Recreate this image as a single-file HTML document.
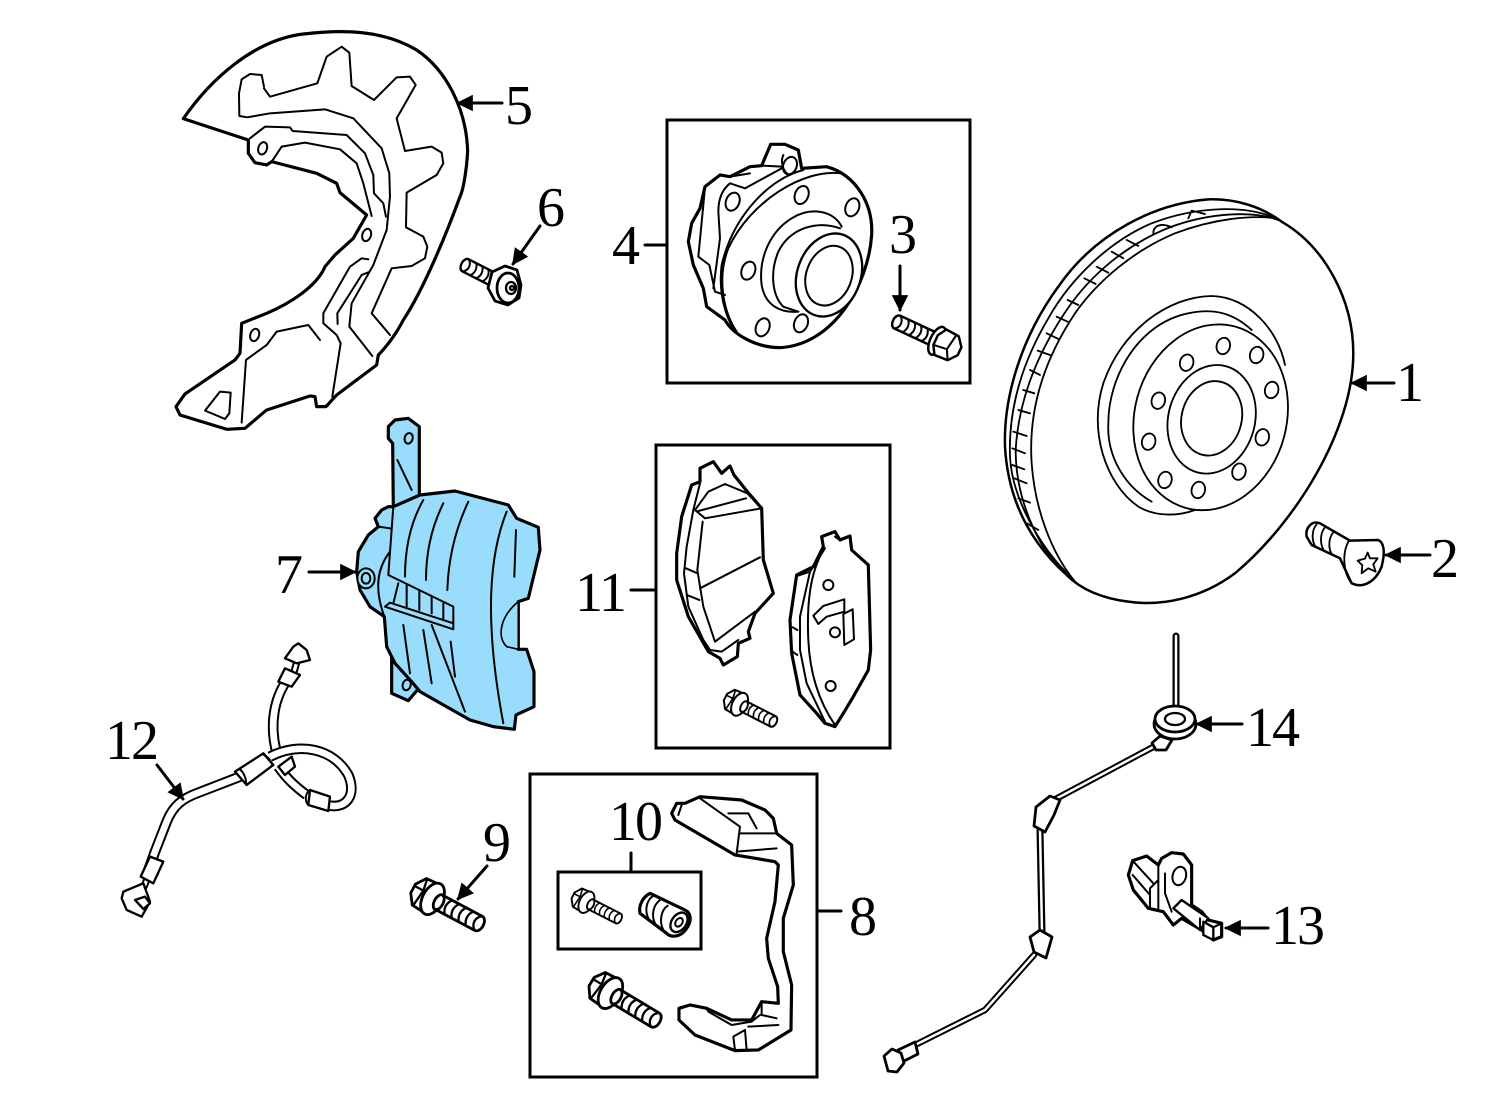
<!DOCTYPE html>
<html><head><meta charset="utf-8"><style>
html,body{margin:0;padding:0;background:#fff}
svg{display:block}
text{font-family:"Liberation Serif",serif;font-size:56px;letter-spacing:-2px;fill:#000}
path,ellipse,circle{stroke-linejoin:round;stroke-linecap:round}
.l{fill:none;stroke:#000;stroke-width:2.3}
.w{fill:#fff;stroke:#000;stroke-width:2.8}
.zo{fill:#fff;stroke:#000;stroke-width:9.5}
.zl{fill:none;stroke:#000;stroke-width:6}
.zw{fill:#fff;stroke:#000;stroke-width:7}
.bo{fill:#99dcfb;stroke:#000;stroke-width:9.5}
.rl{fill:none;stroke:#000;stroke-width:5.5}
.ro{fill:#fff;stroke:#000;stroke-width:7.5}
.rw{fill:#fff;stroke:#000;stroke-width:5.5}
.box{fill:none;stroke:#000;stroke-width:3}
.a{stroke:#000;stroke-width:3;fill:none}
.hk{fill:none;stroke:#000;stroke-width:32;stroke-linecap:butt}
.hw{fill:none;stroke:#fff;stroke-width:20;stroke-linecap:butt}
</style></head><body>
<svg width="1500" height="1103" viewBox="0 0 1500 1103" xmlns="http://www.w3.org/2000/svg">
<defs>
<marker id="m" viewBox="0 0 10 10" refX="9" refY="5" markerWidth="5.5" markerHeight="5.5" orient="auto"><path d="M0 0L10 5L0 10z" fill="#000"/></marker>
<g id="sh"><path class="w" d="M10 -8L56 -8C63 -8 63 8 56 8L10 8z"/><path class="l" d="M22 -8C18 -3 18 3 22 8M30 -8C26 -3 26 3 30 8M38 -8C34 -3 34 3 38 8M46 -8C42 -3 42 3 46 8M56 -8C50 -4 50 4 56 8"/></g>
<g id="b1"><path class="w" d="M-18 -5L-11 -15L3 -16L8 -8L8 8L3 16L-11 15L-18 5z"/><path class="l" d="M-10 -15L-8 -3L3 -3M-18 -3L-8 -3M-8 -3L-10 15"/><ellipse class="w" cx="4" cy="0" rx="10" ry="17"/><use href="#sh"/><ellipse class="w" cx="11" cy="0" rx="4.5" ry="8"/></g>
<g id="b2"><use href="#sh"/><ellipse class="w" cx="6" cy="0" rx="8" ry="17"/><path class="w" d="M-22 -5L-14 -15L2 -16L8 -6L8 6L2 16L-14 15L-22 5z"/><path class="l" d="M-14 -15L-8 -4L8 -6M-8 -4L-11 15"/></g>
</defs>

<!-- boxes -->
<rect class="box" x="667" y="120" width="303" height="263"/>
<rect class="box" x="656" y="445" width="234" height="303"/>
<rect class="box" x="530" y="774" width="287" height="303"/>
<rect class="box" x="558" y="872" width="143" height="77"/>

<!-- 5 shield -->
<g transform="translate(170,20) scale(.3333)">
<path class="zo" d="M40 296C120 180 250 60 400 42C520 28 640 30 740 90C830 150 890 270 893 395C890 450 880 510 870 530C830 640 760 810 700 900C680 940 650 980 625 1005L620 1035L500 1125L468 1160L440 1160L435 1130L420 1128L290 1170L225 1225L170 1228L30 1185L18 1160L45 1122L195 1020L210 1000L215 910L290 880C360 850 440 800 465 740L495 705L550 655L590 585L510 518L500 490L440 460L305 425L290 435L255 428L235 400L235 360z"/>
<path class="zl" d="M282 200L275 165L240 162L215 178L207 220L208 288L232 292L300 280L465 268L550 295L635 385L658 460L660 530L650 630L610 735L545 850L538 920L607 1008"/>
<path class="zl" d="M282 205L300 230L442 190L470 110L515 80L538 98L545 198L612 240L680 172L720 170L737 195L680 295L705 393L785 380L815 398L820 430L800 465L710 518L708 622L760 650L772 680L765 715L725 738L665 745L605 880L660 945"/>
<path class="zl" d="M240 355L285 320L360 322L368 333L530 345L585 400L610 465L612 520L640 550L648 590"/>
<path class="zl" d="M305 425L335 380L405 368L510 388L560 430L580 490L605 588"/>
<path class="zl" d="M595 718L575 715L540 740L460 880L460 910L500 945L512 970L487 1130"/>
<path class="zl" d="M595 757L575 765L502 880L503 912"/>
<path class="zl" d="M450 960L415 915L320 935L290 975L228 1020L215 1208"/>
<path class="zl" d="M105 1172L150 1115L182 1118L178 1180L165 1197z"/>
<ellipse class="zl" cx="278" cy="385" rx="13" ry="19" transform="rotate(18 278 385)"/>
<ellipse class="zl" cx="590" cy="645" rx="13" ry="19" transform="rotate(18 590 645)"/>
<ellipse class="zl" cx="254" cy="945" rx="13" ry="19" transform="rotate(18 254 945)"/>
</g>

<!-- 6 bolt -->
<g transform="translate(508,287) rotate(207) scale(.85)">
<path class="w" d="M10 -8L56 -8C63 -8 63 8 56 8L10 8z"/><path class="l" d="M30 -8C26 -3 26 3 30 8M38 -8C34 -3 34 3 38 8M46 -8C42 -3 42 3 46 8M56 -8C50 -4 50 4 56 8"/>
</g>
<path class="w" d="M492 272L505 266L517 270L521 285L519 298L508 305L495 301L488 288z"/>
<ellipse class="w" cx="508" cy="288" rx="11" ry="15"/>
<ellipse class="l" cx="511" cy="288" rx="5" ry="6"/>
<circle class="l" cx="512" cy="288" r="2"/>

<!-- 4 hub -->
<g transform="translate(670,125) scale(.3333)">
<path class="zo" d="M302 58L345 58L385 75L395 130L470 125C560 150 610 240 605 330C595 480 490 660 330 668C260 668 190 630 165 585L110 545L100 490L70 420L55 350L65 295L90 250L105 185L150 150L180 155L240 125L275 122z"/>
<path class="zl" d="M400 135C300 160 190 270 155 420C145 500 165 570 190 610"/>
<path class="zl" d="M515 145C400 130 240 230 175 370C140 460 160 560 200 620"/>
<path class="zl" d="M302 58L275 122L335 125M335 130L225 190L180 175C155 195 145 225 145 260L150 340L130 490M105 185L100 240L85 395L118 420L135 500L165 510M180 155L240 145M340 90C330 110 340 145 360 150"/>
<ellipse class="zl" cx="360" cy="122" rx="20" ry="27" transform="rotate(22 360 122)"/>
<ellipse class="zl" cx="188" cy="230" rx="20" ry="28" transform="rotate(22 188 230)"/>
<ellipse class="zl" cx="395" cy="210" rx="20" ry="28" transform="rotate(22 395 210)"/>
<ellipse class="zl" cx="547" cy="247" rx="20" ry="28" transform="rotate(22 547 247)"/>
<ellipse class="zl" cx="235" cy="437" rx="20" ry="28" transform="rotate(22 235 437)"/>
<ellipse class="zl" cx="278" cy="607" rx="20" ry="28" transform="rotate(22 278 607)"/>
<ellipse class="zl" cx="393" cy="595" rx="20" ry="28" transform="rotate(22 393 595)"/>
<path class="zl" d="M515 305C490 255 420 245 365 280C300 320 265 400 275 480C285 540 330 565 385 560"/>
<path class="zl" d="M510 310C440 285 360 310 325 380C300 440 305 510 340 545L385 560"/>
<ellipse class="zw" cx="477" cy="450" rx="95" ry="128" transform="rotate(20 477 450)"/>
<ellipse class="zl" cx="477" cy="452" rx="68" ry="92" transform="rotate(20 477 452)"/>
</g>

<!-- 3 bolt -->
<use href="#b2" transform="translate(942,343) rotate(205) scale(.88)"/>

<!-- 1 rotor -->
<g transform="translate(995,190) scale(.3333)">
<path class="ro" d="M640 28C720 25 800 50 860 95C990 170 1075 330 1075 490C1075 720 900 1000 720 1150C620 1225 500 1250 400 1235C320 1225 260 1200 215 1155C120 1070 40 950 30 770C25 620 80 440 190 290C300 130 480 40 640 28z"/>
<path class="rl" d="M855 92C760 40 600 50 470 100C350 150 230 260 160 385C80 520 40 660 45 800C50 910 120 1060 240 1175"/>
<path class="rl" d="M850 90C770 60 640 70 530 110C400 160 290 250 215 360C120 500 70 640 62 780C62 880 90 980 150 1080L235 1170"/>
<path class="rl" d="M845 85C770 75 660 85 540 130C420 180 310 270 240 370C140 520 100 670 110 820C120 960 170 1090 240 1175"/>
<path class="rl" d="M475 130C475 105 500 98 530 112M580 85L590 62L630 72M395 150L430 168M350 185L385 205M305 230L340 248M268 265L302 282M218 330L250 345M185 380L218 395M155 430L190 447M128 482L165 495M105 540L135 555M85 600L118 610M70 660L105 670M55 725L95 738M52 775L90 790M52 825L88 838M58 865L95 880M70 925L105 938M95 1000L130 1020"/>
<path class="rl" d="M870 525C850 420 760 320 650 318C520 320 380 420 325 580C280 720 330 880 430 950C490 985 560 975 600 960"/>
<path class="rl" d="M770 420C710 365 650 355 580 370C430 400 340 560 340 700C335 800 390 890 470 935"/>
<ellipse class="rw" cx="647" cy="682" rx="228" ry="282" transform="rotate(15 647 682)"/>
<ellipse class="rl" cx="650" cy="688" rx="130" ry="165" transform="rotate(15 650 688)"/>
<ellipse class="rl" cx="650" cy="685" rx="90" ry="113" transform="rotate(15 650 685)"/>
<g class="rl"><ellipse cx="685" cy="468" rx="20" ry="25" transform="rotate(15 685 468)"/><ellipse cx="785" cy="495" rx="20" ry="25" transform="rotate(15 785 495)"/><ellipse cx="830" cy="600" rx="20" ry="25" transform="rotate(15 830 600)"/><ellipse cx="802" cy="742" rx="20" ry="25" transform="rotate(15 802 742)"/><ellipse cx="732" cy="845" rx="20" ry="25" transform="rotate(15 732 845)"/><ellipse cx="610" cy="900" rx="20" ry="25" transform="rotate(15 610 900)"/><ellipse cx="510" cy="870" rx="20" ry="25" transform="rotate(15 510 870)"/><ellipse cx="461" cy="755" rx="20" ry="25" transform="rotate(15 461 755)"/><ellipse cx="490" cy="632" rx="20" ry="25" transform="rotate(15 490 632)"/><ellipse cx="575" cy="518" rx="20" ry="25" transform="rotate(15 575 518)"/></g>
<!-- 2 screw -->
<path class="ro" d="M935 1040C930 1015 950 990 975 1000L1065 1052L1150 1050C1170 1060 1170 1090 1160 1130C1140 1180 1100 1195 1070 1180L1035 1105L950 1065z"/>
<path class="rl" d="M965 1003C950 1020 950 1050 960 1068M990 1012C975 1030 975 1060 985 1078M1015 1027C1000 1045 1000 1075 1010 1092M1062 1052C1040 1090 1045 1150 1070 1180"/>
<path class="rl" d="M1118 1088L1125 1105L1148 1105L1135 1123L1142 1145L1120 1135L1100 1150L1102 1126L1088 1112L1110 1106z"/>
</g>

<!-- 7 caliper -->
<g transform="translate(340,410) scale(.3333)">
<path class="bo" d="M145 50L165 30L205 25L238 50L238 260L160 295L158 100L145 85z"/>
<path class="bo" d="M155 740L155 850L205 872L232 840L240 780z"/>
<path class="bo" d="M160 290L240 255L345 243L505 285L530 325L595 352L600 420L565 565L535 575L535 718L560 718L582 785L582 890L528 915L523 958L460 950L390 930L240 845L215 815L165 760L140 710L133 620L90 590L60 540L50 485L55 425L85 375L115 350L105 325L125 300L145 290z"/>
<path class="bo" d="M535 575C480 620 470 680 500 710L535 718z" style="stroke-width:5"/>
<ellipse class="bo" cx="78" cy="505" rx="26" ry="30" style="stroke-width:6"/>
<ellipse class="zl" cx="78" cy="505" rx="13" ry="16"/>
<ellipse class="zl" cx="206" cy="85" rx="12" ry="16" transform="rotate(15 206 85)"/>
<ellipse class="zl" cx="200" cy="825" rx="12" ry="16" transform="rotate(15 200 825)"/>
<path class="zl" d="M172 150L215 240"/>
<path class="zl" d="M160 290L145 495L340 590L340 658L135 590L150 578L340 640M115 350L150 355M150 425C115 470 100 530 133 620"/>
<path class="zl" d="M250 270C210 340 195 420 195 500M310 280C275 350 258 430 258 510M385 275C345 360 325 450 322 540M500 305C450 430 430 620 490 940M528 360L523 500M332 695L345 800M190 645L210 790M250 660L275 820M275 645L375 905M175 520L160 580M200 525L200 590M238 540L238 600M275 560L275 610M310 580L310 630"/>
</g>

<!-- 11 pads -->
<g transform="translate(660,450) scale(.3333)">
<path class="zo" d="M120 95L120 55L160 35L185 70L210 48L222 75L262 125L305 175L310 330L340 430L285 490L265 545L270 565L235 580L232 620L190 645L180 625L145 605L85 500L50 390L50 310L65 200L95 105z"/>
<path class="zl" d="M120 100L100 180L80 290L72 370L85 470L130 570L150 600L185 605L235 570M105 180L145 125L195 102L262 130L305 175L135 205zM115 183L258 145M128 215L112 360L130 470L165 575L285 485M120 415L300 322M78 355L112 370M80 435L118 450"/>
<path class="zo" d="M490 290L485 260L525 245L540 270L570 258L575 300L625 345L632 600L625 660L580 740L550 790L525 830L495 820L470 790L420 735L395 610L390 510L410 375L460 350z"/>
<path class="zl" d="M495 295L450 365L420 500L420 600L440 700L495 815M490 300C450 370 440 460 445 570C450 680 480 760 525 825M410 378L450 365M398 532L412 540M398 605L412 615M525 260L540 270"/>
<circle class="zl" cx="505" cy="405" r="15"/><circle class="zl" cx="525" cy="547" r="15"/><circle class="zl" cx="512" cy="708" r="15"/>
<path class="zl" d="M460 497L490 468L553 448L553 485L500 500L475 522zM550 492L578 478L582 568L553 585z"/>
</g>
<use href="#b1" transform="translate(737,703) rotate(27) scale(.72)"/>

<!-- 10 items -->
<use href="#b1" transform="translate(584,901) rotate(27) scale(.68)"/>
<g transform="translate(535,785) scale(.3333)">
<path class="zo" d="M345 325C325 335 310 360 315 385L395 445C410 460 440 455 455 430C470 410 470 385 450 375z"/>
<path class="zl" d="M355 332C335 345 328 375 340 400M375 345C355 360 348 390 360 415M398 362C378 375 372 410 385 435"/>
<ellipse class="zw" cx="432" cy="412" rx="22" ry="32" transform="rotate(35 432 412)"/>
<ellipse class="zl" cx="432" cy="412" rx="10" ry="14" transform="rotate(35 432 412)"/>
<!-- 8 bracket -->
<path class="zo" d="M410 85L425 55L450 55L495 35L620 45L690 75L715 100L725 145L770 180L775 300L745 400L745 500L770 600L768 735L670 795L600 797L480 750L432 705L432 670L465 660L515 670L590 705L650 705L680 650L730 655L728 605L700 520L695 460L720 350L730 240L720 230L600 210L420 105z"/>
<path class="zl" d="M440 60L430 90M495 40L615 125L605 205M615 145L725 145M580 85L640 85L665 130M605 200L725 190M680 650L680 690L725 700M640 725L730 720M630 735L595 755L600 795M630 735L635 795M515 670L520 680L590 720L650 710L675 690"/>
</g>
<use href="#b1" transform="translate(607,991) rotate(31) scale(1)"/>

<!-- 9 bolt -->
<use href="#b1" transform="translate(429,897) rotate(28) scale(1)"/>

<!-- 12 hose -->
<g transform="translate(100,635) scale(.3333)">
<path class="hk" d="M528 345C510 270 520 190 565 130"/><path class="hw" d="M528 345C510 270 520 190 565 130"/>
<path class="hk" d="M620 480C580 450 560 430 535 395"/><path class="hw" d="M620 480C580 450 560 430 535 395"/>
<path class="hk" d="M510 365C600 320 700 340 745 420C770 480 740 520 690 512"/><path class="hw" d="M510 365C600 320 700 340 745 420C770 480 740 520 690 512"/>
<path class="hk" d="M140 720L165 650L200 560C220 510 250 490 290 475L420 425"/><path class="hw" d="M140 720L165 650L200 560C220 510 250 490 290 475L420 425"/>
<path d="M578 125L595 65M140 735L118 790" fill="none" stroke="#000" stroke-width="22"/><path d="M578 125L595 65M140 735L118 790" fill="none" stroke="#fff" stroke-width="10"/>
<path class="zw" d="M405 410L490 355L520 390L440 450z"/><path class="zl" d="M418 402C430 410 440 430 438 448M488 358C505 365 515 380 518 392"/>
<path class="zw" d="M535 395L575 365L585 395L555 420z"/>
<path class="zw" d="M630 465L690 485L685 528L625 510z"/>
<path class="zl" d="M625 470C615 480 615 500 625 510"/>
<path class="zw" d="M535 140L555 100L600 120L575 155z"/>
<path class="zw" d="M555 70L590 85L630 75L620 45L595 25L580 35z"/>
<path class="zw" d="M122 725L150 665L190 680L160 745z"/>
<path class="zw" d="M70 770L130 745L150 800L125 845L80 825L65 790z"/>
<path class="zw" d="M105 795L135 785L150 805L130 822z"/>
</g>

<!-- 14 sensor wire -->
<path d="M1176 636L1176 712" fill="none" stroke="#000" stroke-width="7" stroke-linecap="round"/>
<path d="M1176 636L1176 712" fill="none" stroke="#fff" stroke-width="2.5" stroke-linecap="round"/>
<path d="M1155 746L1050 802" fill="none" stroke="#000" stroke-width="6.5"/><path d="M1155 746L1050 802" fill="none" stroke="#fff" stroke-width="2.5"/>
<path d="M1040 830L1042 932" fill="none" stroke="#000" stroke-width="7"/><path d="M1040 830L1042 932" fill="none" stroke="#fff" stroke-width="2.5"/>
<path d="M1034 955L985 1010L915 1045" fill="none" stroke="#000" stroke-width="6.5"/><path d="M1034 955L985 1010L915 1045" fill="none" stroke="#fff" stroke-width="2.5"/>
<ellipse class="w" cx="1175" cy="724" rx="21" ry="15"/>
<ellipse class="w" cx="1175" cy="719" rx="20" ry="13"/>
<ellipse class="l" cx="1175" cy="719" rx="10" ry="6"/>
<path class="w" d="M1152 743L1160 736L1172 740L1166 750L1156 750z"/>
<path class="w" d="M1036 807L1050 796L1060 800L1054 815L1045 832L1034 826z"/>
<path class="w" d="M1030 937L1040 930L1052 937L1046 958L1034 952z"/>
<path class="w" d="M898 1050L915 1042L918 1054L902 1062z"/>
<path class="w" d="M884 1056L892 1049L901 1053L904 1063L897 1072L888 1071z"/>

<!-- 13 sensor -->
<g transform="translate(1110,840) scale(.3333)">
<path class="zo" d="M55 105L68 62L110 48L145 75L155 55L185 38L220 42L245 75L245 195L275 215L295 240L335 250L335 290L310 300L275 270L215 235L190 255L160 215L115 205L70 150z"/>
<ellipse class="zl" cx="208" cy="108" rx="20" ry="28" transform="rotate(15 208 108)"/>
<path class="zl" d="M185 215L165 160L165 100M145 75L145 205M68 62L130 130M68 105L120 165M120 205L120 145L145 120"/>
<path class="zw" d="M190 205L215 180L295 235L270 270z"/>
<path class="zw" d="M280 245L310 262L310 300L280 285z"/>
<path class="zl" d="M310 262L335 250M270 235L270 268"/>
</g>

<!-- leaders -->
<path class="a" marker-end="url(#m)" d="M502 103L458 103"/>
<path class="a" marker-end="url(#m)" d="M540 226L513 264"/>
<path class="a" d="M645 245L667 245"/>
<path class="a" marker-end="url(#m)" d="M900 266L900 310"/>
<path class="a" marker-end="url(#m)" d="M1394 383L1352 383"/>
<path class="a" marker-end="url(#m)" d="M1430 555L1386 555"/>
<path class="a" marker-end="url(#m)" d="M309 572L355 572"/>
<path class="a" d="M631 590L656 590"/>
<path class="a" marker-end="url(#m)" d="M157 765L183 799"/>
<path class="a" d="M631 853L631 872"/>
<path class="a" marker-end="url(#m)" d="M487 866L458 899"/>
<path class="a" d="M817 911L841 911"/>
<path class="a" marker-end="url(#m)" d="M1268 928L1226 928"/>
<path class="a" marker-end="url(#m)" d="M1242 724L1197 724"/>

<!-- labels -->
<text x="505" y="124">5</text>
<text x="537" y="226">6</text>
<text x="612" y="264">4</text>
<text x="889" y="253">3</text>
<text x="1396" y="401">1</text>
<text x="1431" y="577">2</text>
<text x="275" y="593">7</text>
<text x="575" y="611">11</text>
<text x="105" y="759">12</text>
<text x="609" y="840">10</text>
<text x="483" y="861">9</text>
<text x="849" y="935">8</text>
<text x="1271" y="944">13</text>
<text x="1246" y="746">14</text>
</svg>
</body></html>
